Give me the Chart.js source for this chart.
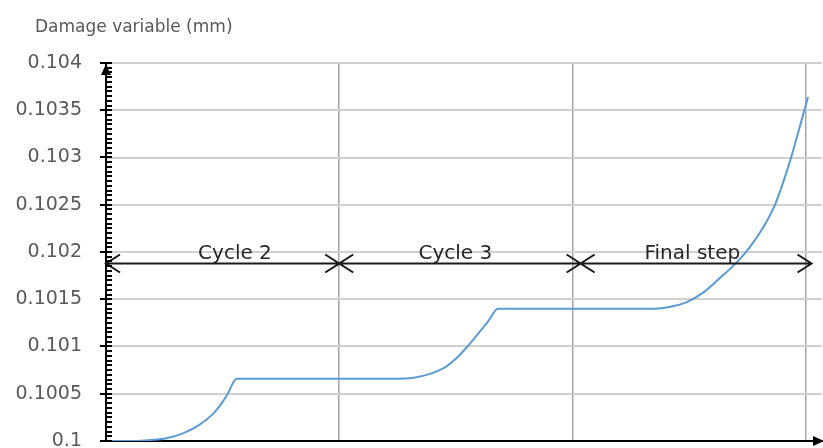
<!DOCTYPE html>
<html>
<head>
    <title>Damage variable</title>
    <style>
        body {
            margin: 0;
            background-color: white;
        }
        canvas {
            display: block;
        }
    </style>
</head>
<body>
    <canvas id="damageChart" width="823" height="448"></canvas>

    <script src="https://cdn.jsdelivr.net/npm/chart.js"></script>
    <script>
    // curve (x in cycles, y in mm)
    const cycleX = [
        0, 0.12, 0.19, 0.26, 0.33, 0.40, 0.46, 0.49, 0.52, 0.56,
        1.25, 1.32, 1.39, 1.43, 1.46, 1.50, 1.55, 1.60, 1.64, 1.68,
        2.35, 2.42, 2.49, 2.56, 2.63, 2.70, 2.76, 2.82, 2.87, 2.93, 2.99, 3.01
    ];
    const damage = [
        0.1, 0.1, 0.10001, 0.10003, 0.10008, 0.10017, 0.10029, 0.10038, 0.10049, 0.10066,
        0.10066, 0.10067, 0.10071, 0.10075, 0.10079, 0.10087, 0.101, 0.10115, 0.10127, 0.1014,
        0.1014, 0.10142, 0.10147, 0.10157, 0.10172, 0.10188, 0.10205, 0.10227, 0.10251, 0.10294, 0.10346, 0.10364
    ];

    const yTickValues = [0.1, 0.1005, 0.101, 0.1015, 0.102, 0.1025, 0.103, 0.1035, 0.104];
    const yTickLabels = ['0.1', '0.1005', '0.101', '0.1015', '0.102', '0.1025', '0.103', '0.1035', '0.104'];
    const xGridValues = [0, 1, 2, 3];

    // dimension arrows above the curve
    const phaseLabels = ['Cycle 2', 'Cycle 3', 'Final step'];
    const phaseStart = [0, 1, 2.035];
    const phaseEnd = [1, 2.035, 3.025];
    const phaseLabelX = [0.553, 1.498, 2.514];
    const phaseLevel = 0.101884;

    const axisTitle = 'Damage variable (mm)';

    Chart.defaults.font.family = "'DejaVu Sans', sans-serif";

    const decorations = {
        id: 'decorations',
        afterDatasetsDraw(chart) {
            const ctx = chart.ctx;
            const x = chart.scales.x;
            const y = chart.scales.y;
            const ly = Math.round(y.getPixelForValue(phaseLevel)) + 0.5;
            ctx.save();
            ctx.strokeStyle = '#1a1a1a';
            ctx.lineWidth = 2;
            for (let i = 0; i < phaseLabels.length; i++) {
                const x0 = x.getPixelForValue(phaseStart[i]);
                const x1 = x.getPixelForValue(phaseEnd[i]);
                ctx.beginPath();
                ctx.moveTo(x0, ly);
                ctx.lineTo(x1, ly);
                // left chevron
                ctx.moveTo(x0 + 14, ly - 9);
                ctx.lineTo(x0, ly);
                ctx.lineTo(x0 + 14, ly + 9);
                // right chevron
                ctx.moveTo(x1 - 14, ly - 9);
                ctx.lineTo(x1, ly);
                ctx.lineTo(x1 - 14, ly + 9);
                ctx.stroke();
            }
            ctx.fillStyle = '#262626';
            ctx.font = "20px 'DejaVu Sans'";
            ctx.textAlign = 'center';
            ctx.textBaseline = 'alphabetic';
            for (let i = 0; i < phaseLabels.length; i++) {
                ctx.fillText(phaseLabels[i], x.getPixelForValue(phaseLabelX[i]), ly - 5);
            }
            ctx.restore();
        },
        afterDraw(chart) {
            const ctx = chart.ctx;
            const a = chart.chartArea;
            const y = chart.scales.y;
            ctx.save();
            ctx.strokeStyle = '#000';
            ctx.lineWidth = 2;
            // minor ticks every 0.00005, major ticks cross the axis
            for (let k = 0; k <= 80; k++) {
                const py = Math.round(y.getPixelForValue(0.1 + k * 0.00005));
                ctx.beginPath();
                if (k % 10 === 0) {
                    ctx.moveTo(a.left - 6, py);
                } else {
                    ctx.moveTo(a.left, py);
                }
                ctx.lineTo(a.left + 6, py);
                ctx.stroke();
            }
            // arrow heads on the axes
            ctx.fillStyle = '#000';
            ctx.beginPath();
            ctx.moveTo(a.left, a.top + 1);
            ctx.lineTo(a.left - 5, a.top + 12);
            ctx.lineTo(a.left + 5, a.top + 12);
            ctx.closePath();
            ctx.fill();
            ctx.beginPath();
            ctx.moveTo(a.right + 2, a.bottom);
            ctx.lineTo(a.right - 9, a.bottom - 5);
            ctx.lineTo(a.right - 9, a.bottom + 5);
            ctx.closePath();
            ctx.fill();
            // axis title
            ctx.fillStyle = '#595959';
            ctx.font = "17px 'DejaVu Sans'";
            ctx.textAlign = 'left';
            ctx.textBaseline = 'alphabetic';
            ctx.fillText(axisTitle, 35, 32);
            ctx.restore();
        }
    };

    const ctx = document.getElementById('damageChart').getContext('2d');
    new Chart(ctx, {
        type: 'line',
        data: {
            datasets: [{
                data: cycleX.map((v, i) => ({ x: v, y: damage[i] })),
                borderColor: '#5b9bd5',
                borderWidth: 2,
                pointRadius: 0,
                fill: false,
                cubicInterpolationMode: 'monotone'
            }]
        },
        options: {
            responsive: false,
            animation: false,
            devicePixelRatio: 1,
            layout: { padding: { top: 63, right: 1, left: 0, bottom: 0 } },
            plugins: {
                legend: { display: false },
                tooltip: { enabled: false }
            },
            scales: {
                x: {
                    type: 'linear',
                    min: 0,
                    max: 3.07,
                    afterBuildTicks: s => { s.ticks = xGridValues.map(v => ({ value: v })); },
                    afterFit: s => { s.height = 7; },
                    ticks: { display: false },
                    grid: {
                        drawTicks: false,
                        color: c => (c.tick && c.tick.value === 0) ? 'rgba(0,0,0,0)' : '#a6a6a6',
                        lineWidth: 1.5
                    },
                    border: { display: true, color: '#000', width: 2 }
                },
                y: {
                    min: 0.1,
                    max: 0.104,
                    afterBuildTicks: s => { s.ticks = yTickValues.map(v => ({ value: v })); },
                    afterFit: s => { s.width = 106; },
                    ticks: {
                        padding: 0,
                        color: '#595959',
                        font: { size: 19, lineHeight: 0.7 },
                        callback: (v, i) => yTickLabels[i]
                    },
                    grid: {
                        drawTicks: true,
                        tickLength: 24,
                        tickColor: 'rgba(0,0,0,0)',
                        color: '#d0d0d0',
                        lineWidth: 2
                    },
                    border: { display: true, color: '#000', width: 2 }
                }
            }
        },
        plugins: [decorations]
    });
    </script>
</body>
</html>
